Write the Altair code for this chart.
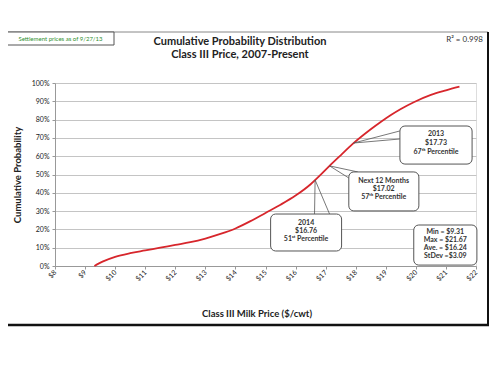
import altair as alt
import pandas as pd

# ---- data ----
prices = [9.31, 9.6, 10.0, 10.5, 11.0, 11.5, 12.0, 12.5, 13.0, 13.5, 14.0, 14.5,
          15.0, 15.5, 16.0, 16.5, 16.76, 17.13, 17.5, 17.9, 18.5, 18.83, 19.17,
          19.5, 19.93, 20.5, 21.0, 21.45]
cum_prob = [0.0, 0.025, 0.05, 0.07, 0.085, 0.10, 0.115, 0.13, 0.15, 0.175, 0.205,
            0.245, 0.29, 0.335, 0.385, 0.447, 0.487, 0.547, 0.605, 0.667, 0.747, 0.787,
            0.825, 0.858, 0.895, 0.935, 0.96, 0.98]

x_ticks = list(range(8, 23))
y_ticks = [i / 10 for i in range(11)]

callout_names = ["2013", "Next 12 Months", "2014"]
callout_lines = [["2013", "$17.73", "67ᵗʰ Percentile"],
                 ["Next 12 Months", "$17.02", "57ᵗʰ Percentile"],
                 ["2014", "$16.76", "51ˢᵗ Percentile"]]
callout_tip_price = [17.93, 17.13, 16.65]
callout_tip_prob = [0.672, 0.547, 0.47]
stats_lines = ["Min = $9.31", "Max = $21.67", "Ave. = $16.24", "StDev =$3.09"]

title_lines = ["Cumulative Probability Distribution", "Class III Price, 2007-Present"]
settlement_note = "Settlement prices as of 9/27/13"
r2_note = "R² = 0.998"
x_title = "Class III Milk Price ($/cwt)"
y_title = "Cumulative Probability"

FONT = "Lato"
TXT = "#333333"

# ---- layout tables (annotation placement, data units) ----
boxes = pd.DataFrame({
    "x1": [19.47, 17.77, 15.17, 19.93],
    "x2": [21.87, 20.10, 17.53, 22.03],
    "y1": [0.557, 0.301, 0.082, 0.005],
    "y2": [0.765, 0.514, 0.284, 0.224],
})
box_cx = [20.67, 18.93, 16.35, 20.98]
box_top_line = [0.721, 0.464, 0.235, 0.186]
box_step = [0.048, 0.044, 0.044, 0.044]
all_lines = callout_lines + [stats_lines]
txt_rows = []
for b, lines in enumerate(all_lines):
    for i, t in enumerate(lines):
        txt_rows.append({"t": t, "x": box_cx[b], "y": box_top_line[b] - i * box_step[b]})
box_text = pd.DataFrame(txt_rows)

anchors = [((19.47, 0.738), (19.47, 0.694)),
           ((17.77, 0.481), (18.07, 0.514)),
           ((16.63, 0.284), (17.13, 0.284))]
wedge_rows = []
for i, name in enumerate(callout_names):
    a1, a2 = anchors[i]
    pts = [a1, (callout_tip_price[i], callout_tip_prob[i]), a2]
    for j, (px, py) in enumerate(pts):
        wedge_rows.append({"id": name, "o": j, "x": px, "y": py})
wedges = pd.DataFrame(wedge_rows)

curve = pd.DataFrame({"price": prices, "p": cum_prob})
one = pd.DataFrame({"a": [0]})

xscale = alt.Scale(domain=[8, 22], nice=False)
yscale = alt.Scale(domain=[0, 1], nice=False)
xaxis = alt.Axis(values=x_ticks, labelExpr="'$' + datum.value", labelAngle=315,
                 labelAlign="right", labelBaseline="middle", labelPadding=2,
                 labelFontSize=7, labelColor="#222", labelFont=FONT, grid=False,
                 tickSize=3, tickColor="#999", domainColor="#999", title=None,
                 labelOverlap=False, labelFlush=False)
yaxis = alt.Axis(values=y_ticks, format=".0%", labelFontSize=7, labelColor="#222",
                 labelFont=FONT, gridColor="#c4c4c4", tickSize=3, tickColor="#999",
                 domainColor="#999", title=None, labelPadding=3,
                 labelOverlap=False, labelFlush=False)

line = alt.Chart(curve).mark_line(color="#d7262c", strokeWidth=1.8,
                                  interpolate="monotone").encode(
    x=alt.X("price:Q", scale=xscale, axis=xaxis),
    y=alt.Y("p:Q", scale=yscale, axis=yaxis),
)

wedge_lines = alt.Chart(wedges).mark_line(color="#555", strokeWidth=0.8).encode(
    x=alt.X("x:Q", scale=xscale, axis=xaxis), y=alt.Y("y:Q", scale=yscale, axis=yaxis),
    detail="id:N", order="o:Q")

box_marks = alt.Chart(boxes).mark_rect(fill="white", stroke="#555", strokeWidth=1,
                                       cornerRadius=5).encode(
    x=alt.X("x1:Q", scale=xscale, axis=xaxis), x2="x2:Q",
    y=alt.Y("y1:Q", scale=yscale, axis=yaxis), y2="y2:Q")

box_labels = alt.Chart(box_text).mark_text(font=FONT, fontWeight="bold", fontSize=7,
                                           color=TXT, baseline="middle", align="center").encode(
    x=alt.X("x:Q", scale=xscale, axis=xaxis), y=alt.Y("y:Q", scale=yscale, axis=yaxis),
    text="t:N")

# ---- outer decoration (pixel positions relative to plot origin) ----
frame = alt.Chart(one).mark_rect(fill=None, stroke="#888", strokeWidth=1).encode(
    x=alt.value(-48), x2=alt.value(433), y=alt.value(-51), y2=alt.value(242))
frame_r = alt.Chart(one).mark_rule(color="#111", strokeWidth=2).encode(
    x=alt.value(433), y=alt.value(-51), y2=alt.value(243))
frame_b = alt.Chart(one).mark_rule(color="#111", strokeWidth=2.5).encode(
    x=alt.value(-48), x2=alt.value(434), y=alt.value(242))
note_box = alt.Chart(one).mark_rect(fill="white", stroke="#555", strokeWidth=1).encode(
    x=alt.value(-48), x2=alt.value(59), y=alt.value(-51), y2=alt.value(-38))
note_text = alt.Chart(one).mark_text(font=FONT, fontSize=6, color="#2f8f2f").encode(
    x=alt.value(5.5), y=alt.value(-44.5), text=alt.value(settlement_note))
t1 = alt.Chart(one).mark_text(font=FONT, fontSize=11, fontWeight="bold", color="#222").encode(
    x=alt.value(185), y=alt.value(-41), text=alt.value(title_lines[0]))
t2 = alt.Chart(one).mark_text(font=FONT, fontSize=11, fontWeight="bold", color="#222").encode(
    x=alt.value(185), y=alt.value(-28), text=alt.value(title_lines[1]))
r2 = alt.Chart(one).mark_text(font=FONT, fontSize=8, color=TXT, align="right").encode(
    x=alt.value(428), y=alt.value(-43), text=alt.value(r2_note))
ytitle = alt.Chart(one).mark_text(font=FONT, fontSize=9.5, fontWeight="bold", color="#222",
                                  angle=270).encode(
    x=alt.value(-37), y=alt.value(92), text=alt.value(y_title))
xtitle = alt.Chart(one).mark_text(font=FONT, fontSize=9.5, fontWeight="bold", color="#222").encode(
    x=alt.value(202), y=alt.value(231), text=alt.value(x_title))

chart = alt.layer(
    line, wedge_lines, box_marks, box_labels,
    frame, frame_r, frame_b, note_box, note_text, t1, t2, r2, ytitle, xtitle
).properties(
    width=421, height=183,
    autosize=alt.AutoSizeParams(type="none"),
    padding={"left": 47, "top": 75, "right": 16, "bottom": 101},
).configure_view(stroke="#c4c4c4").configure(background="white")

chart.save("out.html", embed_options={"renderer": "svg", "actions": False})
